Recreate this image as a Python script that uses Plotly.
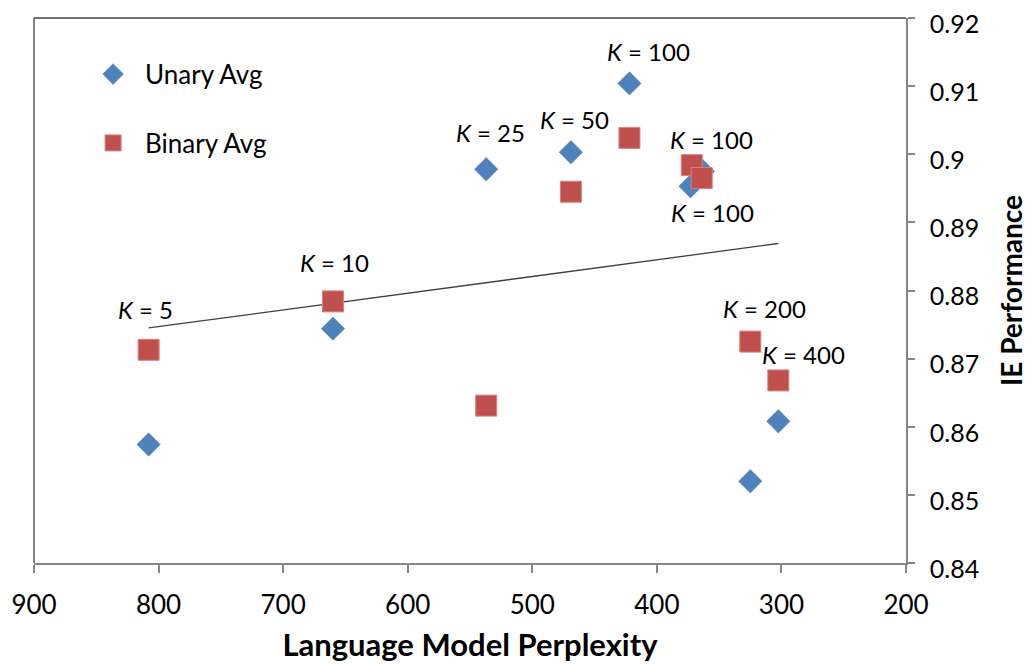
import plotly.graph_objects as go

# ---- data ----
perplexity_unary = [808, 660, 537, 469, 422, 373, 363, 325, 302.5]
unary_avg = [0.8574, 0.8744, 0.8978, 0.9003, 0.9104, 0.8953, 0.8975, 0.8520, 0.8608]
perplexity_binary = [808, 660, 537, 469, 422, 372, 364, 325, 302.5]
binary_avg = [0.8713, 0.8784, 0.8631, 0.8945, 0.9024, 0.8984, 0.8965, 0.8725, 0.8668]
trend_x = [808, 302.5]
trend_y = [0.8745, 0.8869]
x_ticks = [900, 800, 700, 600, 500, 400, 300, 200]
y_ticks = [0.84, 0.85, 0.86, 0.87, 0.88, 0.89, 0.90, 0.91, 0.92]
y_tick_text = ["0.84", "0.85", "0.86", "0.87", "0.88", "0.89", "0.9", "0.91", "0.92"]
# labels: (text, series, index)
k_labels = [("5", "b", 0), ("10", "b", 1), ("25", "u", 2), ("50", "u", 3),
            ("100", "u", 4), ("100", "b", 5), ("100", "u", 5), ("200", "b", 7), ("400", "b", 8)]

BLUE = "#4F81BD"
RED = "#C0504D"
FONT = "Lato"

fig = go.Figure()
fig.add_trace(go.Scatter(x=trend_x, y=trend_y, mode="lines",
                         line=dict(color="#404040", width=1.3),
                         showlegend=False, hoverinfo="skip"))
fig.add_trace(go.Scatter(x=perplexity_unary, y=unary_avg, mode="markers", name="Unary Avg",
                         legendgroup="u",
                         marker=dict(symbol="diamond", size=18, color=BLUE,
                                     line=dict(color="#4A7EBB", width=0.5))))
fig.add_trace(go.Scatter(x=perplexity_binary, y=binary_avg, mode="markers", name="Binary Avg",
                         legendgroup="b",
                         marker=dict(symbol="square", size=21, color=RED,
                                     line=dict(color="#D8807D", width=1))))

# label offsets in pixels (text centre relative to point)
offsets = [(-3, -40), (2, -39), (4, -37), (4, -33), (19, -32), (20, -26), (22, 26), (14, -33), (25, -26)]
for (txt, ser, idx), (dx, dy) in zip(k_labels, offsets):
    if ser == "u":
        px, py = perplexity_unary[idx], unary_avg[idx]
    else:
        px, py = perplexity_binary[idx], binary_avg[idx]
    fig.add_annotation(x=px, y=py, xref="x", yref="y", text=f"<i>K</i> = {txt}",
                       showarrow=False, xshift=dx, yshift=-dy,
                       font=dict(family=FONT, size=24, color="#000000"))

# plot frame (top and left)
fig.add_shape(type="line", xref="paper", yref="paper", x0=0, x1=1, y0=1, y1=1,
              line=dict(color="#404040", width=1.3))
fig.add_shape(type="line", xref="paper", yref="paper", x0=0, x1=0, y0=0, y1=1,
              line=dict(color="#404040", width=1.3))

fig.update_layout(
    width=1025, height=656,
    margin=dict(l=26, r=127, t=10, b=101),
    paper_bgcolor="white", plot_bgcolor="white",
    font=dict(family=FONT, size=24, color="#000000"),
    showlegend=True,
    legend=dict(x=0.054, y=0.94, xanchor="left", yanchor="top",
                itemwidth=54, itemsizing="trace", traceorder="grouped",
                tracegroupgap=32, bgcolor="rgba(0,0,0,0)",
                font=dict(family=FONT, size=26)),
    xaxis=dict(range=[900, 200], tickvals=x_ticks, showgrid=False, zeroline=False,
               automargin=False,
               showline=True, linecolor="#868686", linewidth=1.5,
               ticks="outside", ticklen=8, tickcolor="#868686", tickwidth=1.5,
               ticklabelstandoff=10,
               tickfont=dict(family=FONT, size=26),
               title=dict(text="<b>Language Model Perplexity</b>", standoff=15,
                          font=dict(family=FONT, size=31))),
    yaxis=dict(range=[0.84, 0.92], side="right", tickvals=y_ticks, ticktext=y_tick_text,
               showgrid=False, zeroline=False, automargin=False,
               showline=True, linecolor="#868686", linewidth=1.5,
               ticks="outside", ticklen=7, tickcolor="#868686", tickwidth=1.5,
               ticklabelstandoff=10, ticklabeloverflow="allow", ticklabelshift=6,
               tickfont=dict(family=FONT, size=25),
               title=dict(text="<b>IE Performance</b>", standoff=24,
                          font=dict(family=FONT, size=28))),
)

fig.write_html("out.html")
